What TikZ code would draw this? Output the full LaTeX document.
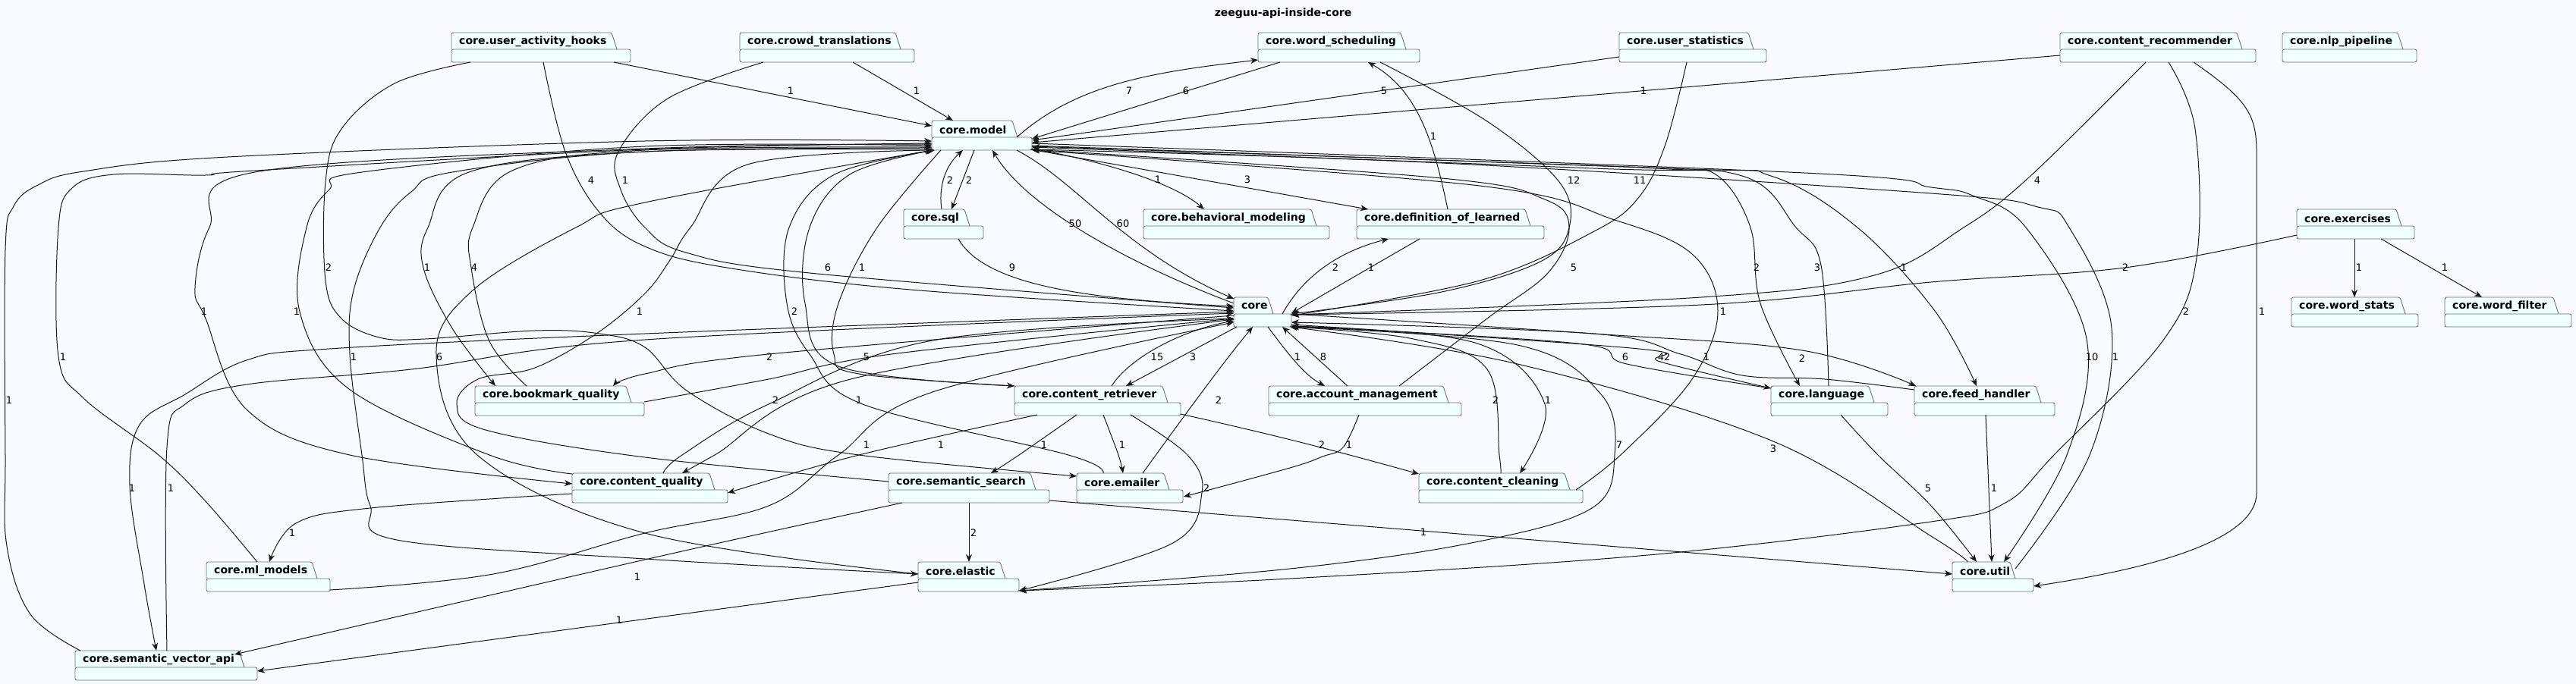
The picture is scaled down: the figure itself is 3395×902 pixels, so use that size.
\documentclass[tikz,border=0pt]{standalone}
\usepackage{fontspec}
\setmainfont{DejaVu Sans}
\usetikzlibrary{arrows.meta,calc}
\definecolor{bgc}{RGB}{248,250,255}
\definecolor{pkfill}{RGB}{240,255,255}
\definecolor{pkline}{RGB}{105,115,115}
\definecolor{ink}{RGB}{24,24,24}
\tikzset{
 pkgshape/.style={fill=pkfill, draw=pkline, line width=0.9pt, rounded corners=2.5pt},
 pkgtext/.style={font=\fontsize{14}{16}\selectfont\bfseries, inner sep=0pt, anchor=west, text=black},
 pkgbox/.style={inner sep=0pt, outer sep=0pt, anchor=north west},
 dep/.style={draw=ink, line width=1pt, -{Stealth[length=10pt,width=8pt,inset=3pt]}},
 lab/.style={font=\fontsize{13}{15}\selectfont, inner sep=0pt, text=black},
 sm/.style={smooth, tension=0.6},
}
\newcommand\pkg[6]{%
 \path[pkgshape] (#2,#3+22) -- (#2,#3) -- (#4-7,#3) -- (#4,#3+22);
 \path[pkgshape] (#2,#3+22) rectangle (#5,#3+39);
 \node[pkgbox, minimum width={#5-#2}, minimum height=39] (#1) at (#2,#3) {};
 \node[pkgtext] (#1-t) at (#2+10,#3+12) {#6};
}
\begin{document}
\begin{tikzpicture}[x=1pt,y=-1pt]
\useasboundingbox (0,0) rectangle (3395,902);
\fill[bgc] (0,0) rectangle (3395,902);
\node[font=\fontsize{14}{16}\selectfont\bfseries, inner sep=0pt] (title) at (1691,18) {zeeguu-api-inside-core};
% packages
\pkg{uah}{595}{43}{813}{831}{core.user\_activity\_hooks}
\pkg{ct}{975}{43}{1187}{1205}{core.crowd\_translations}
\pkg{ws}{1658}{43}{1853}{1871}{core.word\_scheduling}
\pkg{us}{2134}{43}{2311}{2328}{core.user\_statistics}
\pkg{cr}{2715}{43}{2955}{2973}{core.content\_recommender}
\pkg{nlp}{3008}{43}{3167}{3185}{core.nlp\_pipeline}
\pkg{model}{1228}{159}{1341}{1360}{core.model}
\pkg{sql}{1191}{276}{1278}{1296}{core.sql}
\pkg{bm}{1507}{276}{1735}{1752}{core.behavioral\_modeling}
\pkg{dol}{1788}{276}{2017}{2035}{core.definition\_of\_learned}
\pkg{ex}{3027}{276}{3165}{3182}{core.exercises}
\pkg{core}{1626}{392}{1678}{1702}{core}
\pkg{wst}{3020}{392}{3170}{3187}{core.word\_stats}
\pkg{wf}{3222}{392}{3372}{3389}{core.word\_filter}
\pkg{bq}{626}{509}{832}{849}{core.bookmark\_quality}
\pkg{cret}{1337}{509}{1539}{1556}{core.content\_retriever}
\pkg{am}{1672}{509}{1909}{1926}{core.account\_management}
\pkg{lang}{2334}{509}{2470}{2488}{core.language}
\pkg{fh}{2523}{509}{2690}{2708}{core.feed\_handler}
\pkg{cq}{754}{624}{942}{959}{core.content\_quality}
\pkg{ss}{1171}{624}{1365}{1383}{core.semantic\_search}
\pkg{em}{1419}{624}{1541}{1559}{core.emailer}
\pkg{cc}{1870}{624}{2069}{2086}{core.content\_cleaning}
\pkg{ml}{272}{741}{418}{435}{core.ml\_models}
\pkg{el}{1210}{741}{1325}{1343}{core.elastic}
\pkg{util}{2573}{741}{2656}{2680}{core.util}
\pkg{sva}{99}{858}{322}{339}{core.semantic\_vector\_api}
% ---------------- connectors ----------------
\draw[dep] ([shift={(214,39)}]uah.north west) -- ([shift={(0,7)}]model.north west);
\node[lab] (l1) at (1042,120) {1};
\draw[dep] plot[sm] coordinates {([shift={(121,39)}]uah.north west) (745,200) (790,280) (850,325) (958,353) (1200,382) ([shift={(0,18)}]core.north west)};
\node[lab] (l2) at (779,238) {4};
\draw[dep] plot[sm] coordinates {([shift={(31,39)}]ct.north west) (880,130) (815,200) (818,250) (850,300) (904,333) (1067,360) ([shift={(0,14)}]core.north west)};
\node[lab] (l3) at (824,238) {1};
\draw[dep] plot[sm] coordinates {([shift={(25,39)}]uah.north west) (520,110) (450,170) (429,240) (429,370) (450,420) (500,445) (560,447) (705,436) (790,440) (850,458) (905,515) (1013,572) (1132,600) ([shift={(0,4)}]em.north west)};
\node[lab] (l4) at (433,353) {2};
\draw[dep] ([shift={(149,39)}]ct.north west) -- ([shift={(28,0)}]model.north west);
\node[lab] (l5) at (1208,120) {1};
\draw[dep] ([shift={(112,22)}]model.north west) .. controls (1420,110) and (1520,95) .. ([shift={(0,36)}]ws.north west);
\node[lab] (l6) at (1488,120) {7};
\draw[dep] ([shift={(29,39)}]ws.north west) -- ([shift={(132,24)}]model.north west);
\node[lab] (l7) at (1563,120) {6};
\draw[dep] ([shift={(0,32)}]us.north west) -- ([shift={(132,26)}]model.north west);
\node[lab] (l8) at (1824,120) {5};
\draw[dep] ([shift={(0,30)}]cr.north west) -- ([shift={(132,29)}]model.north west);
\node[lab] (l9) at (2166,120) {1};
\draw[dep] plot[sm] coordinates {([shift={(161,39)}]ws.north west) (1960,160) (2055,240) (2068,300) (2030,345) (1900,385) ([shift={(76,22)}]core.north west)};
\node[lab] (l10) at (2074,238) {12};
\draw[dep] plot[sm] coordinates {([shift={(89,39)}]us.north west) (2195,190) (2160,260) (2101,305) (1950,370) ([shift={(76,24)}]core.north west)};
\node[lab] (l11) at (2161,238) {11};
\draw[dep] ([shift={(120,0)}]dol.north west) .. controls (1890,190) and (1870,120) .. ([shift={(145,39)}]ws.north west);
\node[lab] (l12) at (1889,180) {1};
\draw[dep] ([shift={(132,37)}]model.north west) .. controls (1450,212) and (1545,240) .. ([shift={(80,0)}]bm.north west);
\node[lab] (l13) at (1526,237) {1};
\draw[dep] ([shift={(130,38)}]model.north west) -- ([shift={(15,0)}]dol.north west);
\node[lab] (l14) at (1644,237) {3};
\draw[dep] ([shift={(50,0)}]sql.north west) .. controls (1236,240) and (1250,215) .. ([shift={(41,39)}]model.north west);
\node[lab] (l15) at (1252,238) {2};
\draw[dep] ([shift={(56,39)}]model.north west) -- ([shift={(63,0)}]sql.north west);
\node[lab] (l16) at (1277,238) {2};
\draw[dep] ([shift={(0,8)}]core.north west) .. controls (1480,345) and (1350,270) .. ([shift={(80,39)}]model.north west);
\node[lab] (l17) at (1417,295) {50};
\draw[dep] ([shift={(112,39)}]model.north west) .. controls (1420,240) and (1480,330) .. ([shift={(0,2)}]core.north west);
\node[lab] (l18) at (1480,295) {60};
\draw[dep] ([shift={(72,39)}]sql.north west) .. controls (1300,380) and (1450,395) .. ([shift={(0,12)}]core.north west);
\node[lab] (l19) at (1334,353) {9};
\draw[dep] ([shift={(64,22)}]core.north west) .. controls (1720,360) and (1770,330) .. ([shift={(42,39)}]dol.north west);
\node[lab] (l20) at (1760,353) {2};
\draw[dep] ([shift={(83,39)}]dol.north west) -- ([shift={(76,21)}]core.north west);
\node[lab] (l21) at (1807,353) {1};
\draw[dep] plot[sm] coordinates {([shift={(113,39)}]cr.north west) (2675,233) (2588,300) (2470,363) (2242,392) ([shift={(76,23)}]core.north west)};
\node[lab] (l22) at (2685,238) {4};
\draw[dep] plot[sm] coordinates {([shift={(143,39)}]cr.north west) (2893,170) (2895,340) (2850,450) (2707,600) (2643,663) (2545,688) (2172,732) (1700,763) ([shift={(133,38)}]el.north west)};
\node[lab] (l23) at (2881,411) {2};
\draw[dep] ([shift={(176,39)}]cr.north west) .. controls (2960,130) and (2974,150) .. (2974,200) -- (2974,650) .. controls (2974,720) and (2800,755) .. ([shift={(107,32)}]util.north west);
\node[lab] (l24) at (2981,411) {1};
\draw[dep] plot[sm] coordinates {([shift={(0,34)}]ex.north west) (2800,353) (2545,372) (2242,402) ([shift={(76,23)}]core.north west)};
\node[lab] (l25) at (2801,353) {2};
\draw[dep] ([shift={(76,39)}]ex.north west) -- ([shift={(83,0)}]wst.north west);
\node[lab] (l26) at (3109,353) {1};
\draw[dep] ([shift={(111,39)}]ex.north west) -- ([shift={(49,0)}]wf.north west);
\node[lab] (l27) at (3222,353) {1};
\draw[dep] plot[sm] coordinates {([shift={(76,22)}]core.north west) (2100,440) (2375,462) ([shift={(2,0)}]fh.north west)};
\node[lab] (l28) at (2375,473) {2};
\draw[dep] plot[sm] coordinates {([shift={(0,5)}]fh.north west) (2405,500) (2296,495) (2215,467) (2100,440) ([shift={(76,33)}]core.north west)};
\node[lab] (l29) at (2249,471) {1};
\draw[dep] plot[sm] coordinates {([shift={(76,36)}]core.north west) (2160,460) (2188,477) ([shift={(0,3)}]lang.north west)};
\node[lab] (l30) at (2193,471) {42};
\draw[dep] plot[sm] coordinates {([shift={(0,3)}]lang.north west) (2144,480) (2079,453) ([shift={(76,38)}]core.north west)};
\node[lab] (l31) at (2142,471) {6};
\draw[dep] plot[sm] coordinates {([shift={(132,33)}]model.north west) (2000,215) (2200,223) (2264,232) (2307,300) (2320,400) ([shift={(38,0)}]lang.north west)};
\node[lab] (l32) at (2315,353) {2};
\draw[dep] plot[sm] coordinates {([shift={(76,0)}]lang.north west) (2400,350) (2367,300) (2296,232) (2100,222) ([shift={(132,35)}]model.north west)};
\node[lab] (l33) at (2395,353) {3};
\draw[dep] plot[sm] coordinates {([shift={(132,34)}]model.north west) (2200,222) (2334,232) (2448,300) (2550,410) ([shift={(82,0)}]fh.north west)};
\node[lab] (l34) at (2509,353) {1};
\draw[dep] plot[sm] coordinates {([shift={(132,30)}]model.north west) (2378,228) (2545,247) (2600,258) (2670,300) (2750,447) (2724,600) ([shift={(68,0)}]util.north west)};
\node[lab] (l35) at (2757,471) {10};
\draw[dep] plot[sm] coordinates {([shift={(83,9)}]util.north west) (2754,600) (2783,433) (2727,300) (2686,273) (2545,255) (1900,215) ([shift={(132,38)}]model.north west)};
\node[lab] (l36) at (2788,471) {1};
\draw[dep] plot[sm] coordinates {([shift={(172,0)}]am.north west) (1960,420) (2040,360) (2068,300) (2036,263) (1900,235) ([shift={(132,38)}]model.north west)};
\node[lab] (l37) at (2074,353) {5};
\draw[dep] plot[sm] coordinates {([shift={(207,22)}]cc.north west) (2139,597) (2230,500) (2264,410) (2230,335) (2128,290) (1950,245) ([shift={(132,39)}]model.north west)};
\node[lab] (l38) at (2271,411) {1};
\draw[dep] plot[sm] coordinates {([shift={(76,38)}]core.north west) (1944,452) (2036,533) ([shift={(133,0)}]cc.north west)};
\node[lab] (l39) at (2040,528) {1};
\draw[dep] plot[sm] coordinates {([shift={(108,0)}]cc.north west) (1976,600) (1960,487) (1863,447) ([shift={(76,39)}]core.north west)};
\node[lab] (l40) at (1971,528) {2};
\draw[dep] plot[sm] coordinates {([shift={(76,39)}]core.north west) (2000,455) (2110,520) (2128,600) (2098,670) (1944,715) (1700,750) ([shift={(133,38)}]el.north west)};
\node[lab] (l41) at (2134,587) {7};
\draw[dep] plot[sm] coordinates {([shift={(21,0)}]util.north west) (2545,707) (2337,582) (2000,480) ([shift={(74,39)}]core.north west)};
\node[lab] (l42) at (2337,592) {3};
\draw[dep] plot[sm] coordinates {([shift={(92,38)}]lang.north west) (2475,600) (2545,667) ([shift={(32,0)}]util.north west)};
\node[lab] (l43) at (2541,644) {5};
\draw[dep] ([shift={(94,38)}]fh.north west) -- ([shift={(52,0)}]util.north west);
\node[lab] (l44) at (2628,644) {1};
\draw[dep] ([shift={(212,36)}]ss.north west) -- ([shift={(0,16)}]util.north west);
\node[lab] (l45) at (1876,702) {1};
\draw[dep] ([shift={(45,39)}]core.north west) .. controls (1700,470) and (1720,495) .. ([shift={(74,0)}]am.north west);
\node[lab] (l46) at (1710,471) {1};
\draw[dep] ([shift={(104,0)}]am.north west) -- ([shift={(64,39)}]core.north west);
\node[lab] (l47) at (1744,471) {8};
\draw[dep] plot[sm] coordinates {([shift={(119,38)}]am.north west) (1770,590) (1743,602) (1700,617) ([shift={(141,31)}]em.north west)};
\node[lab] (l48) at (1778,587) {1};
\draw[dep] ([shift={(219,37)}]cret.north west) .. controls (1700,578) and (1780,600) .. ([shift={(0,1)}]cc.north west);
\node[lab] (l49) at (1742,587) {2};
\draw[dep] ([shift={(128,0)}]cret.north west) .. controls (1490,470) and (1560,435) .. ([shift={(0,31)}]core.north west);
\node[lab] (l50) at (1525,471) {15};
\draw[dep] ([shift={(4,39)}]core.north west) -- ([shift={(147,0)}]cret.north west);
\node[lab] (l51) at (1572,471) {3};
\draw[dep] ([shift={(87,0)}]em.north west) .. controls (1545,570) and (1610,480) .. ([shift={(25,39)}]core.north west);
\node[lab] (l52) at (1606,528) {2};
\draw[dep] plot[sm] coordinates {([shift={(30,38)}]cret.north west) (1132,600) ([shift={(205,26)}]cq.north west)};
\node[lab] (l53) at (1240,587) {1};
\draw[dep] plot[sm] coordinates {([shift={(82,38)}]cret.north west) (1343,600) ([shift={(135,0)}]ss.north west)};
\node[lab] (l54) at (1376,587) {1};
\draw[dep] plot[sm] coordinates {([shift={(117,38)}]cret.north west) (1474,600) ([shift={(61,0)}]em.north west)};
\node[lab] (l55) at (1479,587) {1};
\draw[dep] plot[sm] coordinates {([shift={(153,38)}]cret.north west) (1565,600) (1584,650) (1544,717) ([shift={(133,38)}]el.north west)};
\node[lab] (l56) at (1590,644) {2};
\draw[dep] ([shift={(106,39)}]ss.north west) -- ([shift={(67,0)}]el.north west);
\node[lab] (l57) at (1283,703) {2};
\draw[dep] plot[sm] coordinates {([shift={(18,39)}]ss.north west) (850,738) ([shift={(210,5)}]sva.north west)};
\node[lab] (l58) at (840,761) {1};
\draw[dep] ([shift={(0,27)}]el.north west) -- ([shift={(240,27)}]sva.north west);
\node[lab] (l59) at (816,818) {1};
\draw[dep] plot[sm] coordinates {([shift={(0,27)}]cq.north west) (488,670) (390,690) ([shift={(83,0)}]ml.north west)};
\node[lab] (l60) at (385,703) {1};
\draw[dep] plot[sm] coordinates {([shift={(67,0)}]ml.north west) (270,660) (209,600) (110,525) (77,470) (77,300) (95,248) (150,230) (271,231) (336,225) (850,197) ([shift={(0,30)}]model.north west)};
\node[lab] (l61) at (83,471) {1};
\draw[dep] plot[sm] coordinates {([shift={(7,0)}]sva.north west) (40,810) (9,720) (7,600) (7,330) (18,272) (50,244) (110,226) (300,207) (850,186) ([shift={(0,27)}]model.north west)};
\node[lab] (l62) at (12,528) {1};
\draw[dep] plot[sm] coordinates {([shift={(0,19)}]core.north west) (850,440) (434,460) (325,475) (244,520) (184,560) (171,640) (190,770) ([shift={(107,0)}]sva.north west)};
\node[lab] (l63) at (174,644) {1};
\draw[dep] plot[sm] coordinates {([shift={(121,0)}]sva.north west) (220,590) (244,533) (325,507) (542,487) (850,448) ([shift={(0,21)}]core.north west)};
\node[lab] (l64) at (225,644) {1};
\draw[dep] plot[sm] coordinates {([shift={(0,1)}]cq.north west) (645,600) (460,513) (395,411) (404,300) (434,250) (477,227) (850,193) ([shift={(0,33)}]model.north west)};
\node[lab] (l65) at (391,411) {1};
\draw[dep] plot[sm] coordinates {([shift={(0,31)}]model.north west) (850,196) (336,227) (276,300) (257,380) (271,420) (325,540) (461,600) ([shift={(0,14)}]cq.north west)};
\node[lab] (l66) at (269,411) {1};
\draw[dep] plot[sm] coordinates {([shift={(0,16)}]el.north west) (850,703) (629,600) (575,467) (623,383) (759,300) (850,267) ([shift={(1,39)}]model.north west)};
\node[lab] (l67) at (579,471) {6};
\draw[dep] plot[sm] coordinates {([shift={(0,38)}]model.north west) (850,200) (596,227) (542,253) (501,300) (466,383) (461,467) (477,600) (488,667) (523,712) (850,737) ([shift={(0,16)}]el.north west)};
\node[lab] (l68) at (466,471) {1};
\draw[dep] plot[sm] coordinates {([shift={(0,36)}]model.north west) (850,200) (618,227) (564,300) (558,353) (596,433) ([shift={(27,0)}]bq.north west)};
\node[lab] (l69) at (563,353) {1};
\draw[dep] plot[sm] coordinates {([shift={(68,0)}]bq.north west) (645,450) (621,353) (623,300) (675,225) (850,198) ([shift={(0,35)}]model.north west)};
\node[lab] (l70) at (625,353) {4};
\draw[dep] plot[sm] coordinates {([shift={(0,24)}]core.north west) (1013,467) (850,493) ([shift={(182,0)}]bq.north west)};
\node[lab] (l71) at (1014,471) {2};
\draw[dep] plot[sm] coordinates {([shift={(223,21)}]bq.north west) (1013,500) (1175,467) ([shift={(0,28)}]core.north west)};
\node[lab] (l72) at (1142,471) {5};
\draw[dep] plot[sm] coordinates {([shift={(120,0)}]cq.north west) (899,600) (1013,533) (1229,449) ([shift={(0,28)}]core.north west)};
\node[lab] (l73) at (1022,528) {2};
\draw[dep] plot[sm] coordinates {([shift={(0,29)}]core.north west) (1121,500) (942,600) ([shift={(145,0)}]cq.north west)};
\node[lab] (l74) at (1132,528) {1};
\draw[dep] plot[sm] coordinates {([shift={(163,37)}]ml.north west) (650,757) (850,703) (1013,667) (1105,600) (1229,517) ([shift={(0,33)}]core.north west)};
\node[lab] (l75) at (1142,587) {1};
\draw[dep] plot[sm] coordinates {([shift={(0,0)}]cret.north west) (1105,483) (1061,400) (1067,300) (1120,230) ([shift={(2,39)}]model.north west)};
\node[lab] (l76) at (1091,353) {6};
\draw[dep] plot[sm] coordinates {([shift={(12,39)}]model.north west) (1156,300) (1105,400) (1099,467) (1132,493) ([shift={(0,0)}]cret.north west)};
\node[lab] (l77) at (1136,353) {1};
\draw[dep] plot[sm] coordinates {([shift={(35,0)}]em.north west) (1408,600) (1137,533) (1067,467) (1037,400) (1040,300) (1100,230) ([shift={(4,39)}]model.north west)};
\node[lab] (l78) at (1047,411) {2};
\draw[dep] plot[sm] coordinates {([shift={(0,11)}]ss.north west) (850,603) (640,567) (602,533) (630,500) (705,485) (786,440) (850,387) (883,343) (910,300) (985,217) ([shift={(1,39)}]model.north west)};
\node[lab] (l79) at (843,411) {1};
\end{tikzpicture}
\end{document}
